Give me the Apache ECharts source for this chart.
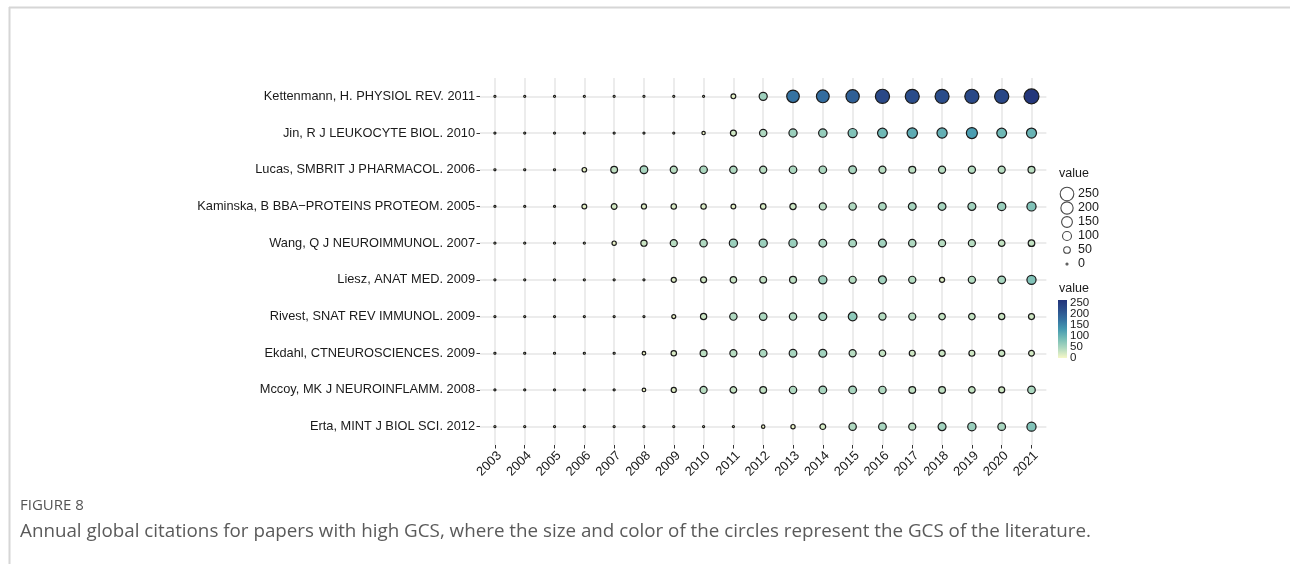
<!DOCTYPE html>
<html><head><meta charset="utf-8">
<script src="https://cdn.jsdelivr.net/npm/echarts@6/dist/echarts.min.js"></script>
<style>html,body{margin:0;padding:0;background:#fff}#c{width:1290px;height:564px}</style>
</head><body><div id="c"></div>
<script>
// ---- data ----
const years = ['2003','2004','2005','2006','2007','2008','2009','2010','2011','2012','2013','2014','2015','2016','2017','2018','2019','2020','2021'];
// bottom -> top
const papers = [
  'Erta, MINT J BIOL SCI. 2012',
  'Mccoy, MK J NEUROINFLAMM. 2008',
  'Ekdahl, CTNEUROSCIENCES. 2009',
  'Rivest, SNAT REV IMMUNOL. 2009',
  'Liesz, ANAT MED. 2009',
  'Wang, Q J NEUROIMMUNOL. 2007',
  'Kaminska, B BBA\u2212PROTEINS PROTEOM. 2005',
  'Lucas, SMBRIT J PHARMACOL. 2006',
  'Jin, R J LEUKOCYTE BIOL. 2010',
  'Kettenmann, H. PHYSIOL REV. 2011'
];
const erta       = [0,0,0,0,0,0,0,0,0,3,8,22,45,50,40,55,62,50,80];
const mccoy      = [0,0,0,0,0,4,15,40,32,35,45,50,50,45,35,35,32,25,48];
const ekdahl     = [0,0,0,0,0,4,18,38,40,48,50,55,40,32,25,28,25,28,22];
const rivest     = [0,0,0,0,0,0,6,28,45,48,45,55,70,42,40,32,32,28,25];
const liesz      = [0,0,0,0,0,0,15,25,30,35,38,60,42,55,42,15,42,50,80];
const wang       = [0,0,0,0,8,28,40,45,60,60,62,52,50,55,45,40,40,32,33];
const kaminska   = [0,0,0,12,22,15,18,18,12,20,28,40,45,48,52,52,55,62,80];
const lucas      = [0,0,0,10,35,50,40,48,45,40,48,48,50,40,38,40,42,40,38];
const jin        = [0,0,0,0,0,0,0,3,25,45,60,65,80,95,110,105,128,95,100];
const kettenmann = [0,0,0,0,0,0,0,0,12,58,175,182,200,232,226,226,232,235,262];
const rows = [erta, mccoy, ekdahl, rivest, liesz, wang, kaminska, lucas, jin, kettenmann];
const sizeLegendValues = ['0','50','100','150','200','250'];
const colorbarTicks = ['0','50','100','150','200','250'];
const vmax = 265;
const palette = ['#f6f8c8','#b0d9c0','#76bdb6','#4599b0','#3470a0','#2b4f8c','#22347a'];

// ---- build ----
const points = [];
rows.forEach((r, yi) => r.forEach((v, xi) => points.push([xi, yi, v])));
const sizeOf = v => 2 + 13 * Math.sqrt(v / vmax);
const gridMarks = years.map(y => ({xAxis: y})).concat(papers.map(p => ({yAxis: p})));
const stops = palette.map((c, i) => ({offset: i / (palette.length - 1), color: c}));
const FONT = '"Liberation Sans", Arial, sans-serif';
// colorbar geometry
const cbTop = 300, cbH = 58;
const cbTickTop = cbTop + cbH * (vmax - 250) / vmax;

const chart = echarts.init(document.getElementById('c'), null, {renderer: 'canvas'});
chart.setOption({
  animation: false,
  backgroundColor: '#fff',
  grid: [
    {left: 480, right: 243.6, top: 78, bottom: 119},
    {left: 1061, width: 12, top: 194, height: 70},
    {left: 1058, width: 9, top: cbTop, height: cbH},
    {left: 1058, width: 9, top: cbTickTop, height: cbTop + cbH - cbTickTop}
  ],
  xAxis: [
    {type: 'category', gridIndex: 0, data: years, boundaryGap: true,
     axisLine: {show: false}, axisTick: {show: true, alignWithLabel: true, length: 3.5, lineStyle: {color: '#333', width: 1}},
     axisLabel: {rotate: 45, fontSize: 13, fontFamily: FONT, color: '#1a1a1a', margin: 4, interval: 0,
                 align: 'right', verticalAlign: 'top'},
     splitLine: {show: false}},
    {type: 'value', gridIndex: 1, min: -1, max: 1, show: false},
    {type: 'category', gridIndex: 2, data: ['c'], show: false},
    {type: 'value', gridIndex: 3, min: 0, max: 1, show: false}
  ],
  yAxis: [
    {type: 'category', gridIndex: 0, data: papers, boundaryGap: true,
     axisLine: {show: false}, axisTick: {show: true, alignWithLabel: true, length: 3.5, lineStyle: {color: '#333', width: 1}},
     axisLabel: {fontSize: 12.8, fontFamily: FONT, color: '#1a1a1a', margin: 5, interval: 0},
     splitLine: {show: false}},
    {type: 'category', gridIndex: 1, data: sizeLegendValues, boundaryGap: false, position: 'right',
     axisLine: {show: false}, axisTick: {show: false},
     axisLabel: {fontSize: 12.5, fontFamily: FONT, color: '#1a1a1a', margin: 5, interval: 0, hideOverlap: false}},
    {type: 'value', gridIndex: 2, min: 0, max: vmax, show: false},
    {type: 'category', gridIndex: 3, data: colorbarTicks, boundaryGap: false, position: 'right', z: 10,
     axisLine: {show: false}, splitLine: {show: false},
     axisTick: {show: true, inside: true, interval: 0, length: 2, lineStyle: {color: '#fff', width: 1}},
     axisLabel: {fontSize: 11.5, lineHeight: 9, fontFamily: FONT, color: '#1a1a1a', margin: 3, interval: 0, hideOverlap: false}}
  ],
  visualMap: {
    show: false, seriesIndex: 1, dimension: 2, min: 0, max: vmax,
    inRange: {color: palette}
  },
  series: [
    {type: 'scatter', xAxisIndex: 0, yAxisIndex: 0, data: [], z: 1, silent: true,
     markLine: {silent: true, symbol: 'none', label: {show: false},
                lineStyle: {color: '#e6e6e6', width: 1.5, type: 'solid'}, data: gridMarks}},
    {type: 'scatter', xAxisIndex: 0, yAxisIndex: 0, data: points, z: 5,
     symbolSize: d => sizeOf(d[2]),
     itemStyle: {borderColor: '#1a1a1a', borderWidth: 1.2, opacity: 1}},
    {type: 'scatter', xAxisIndex: 1, yAxisIndex: 1, z: 5,
     data: sizeLegendValues.map(v => [0, v, +v]),
     symbolSize: d => Math.max(2, sizeOf(d[2]) - 1),
     itemStyle: {color: '#fff', borderColor: '#1a1a1a', borderWidth: 1.1}},
    {type: 'bar', xAxisIndex: 2, yAxisIndex: 2, data: [vmax], barWidth: '100%', silent: true, z: 2,
     itemStyle: {color: new echarts.graphic.LinearGradient(0, 1, 0, 0, stops)}},
    {type: 'scatter', xAxisIndex: 3, yAxisIndex: 3, data: [], silent: true}
  ],
  graphic: [
    {type: 'line', shape: {x1: 9, y1: 7.5, x2: 1290, y2: 7.5}, style: {stroke: '#d6d6d6', lineWidth: 2}},
    {type: 'line', shape: {x1: 9.5, y1: 7, x2: 9.5, y2: 564}, style: {stroke: '#d6d6d6', lineWidth: 2}},
    {type: 'text', x: 1059, y: 174, style: {text: 'value', font: '12.5px ' + FONT, fill: '#1a1a1a', verticalAlign: 'middle'}},
    {type: 'text', x: 1059, y: 289, style: {text: 'value', font: '12.5px ' + FONT, fill: '#1a1a1a', verticalAlign: 'middle'}},
    {type: 'text', x: 20, y: 506, style: {text: 'FIGURE 8', font: '15px "Open Sans", sans-serif', fill: '#555', verticalAlign: 'middle'}},
    {type: 'text', x: 20, y: 532, style: {text: 'Annual global citations for papers with high GCS, where the size and color of the circles represent the GCS of the literature.', font: '18.8px "Open Sans", sans-serif', fill: '#5a5a5a', verticalAlign: 'middle'}}
  ]
});
</script></body></html>
